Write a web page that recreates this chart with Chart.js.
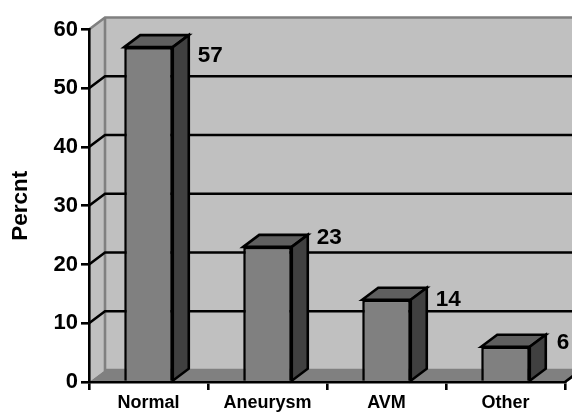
<!DOCTYPE html>
<html>
<head>
<meta charset="utf-8">
<title>Percnt</title>
<script src="https://cdn.jsdelivr.net/npm/chart.js@4/dist/chart.umd.js"></script>
<style>
  html, body { margin: 0; padding: 0; background: #fff; }
  canvas { display: block; }
</style>
</head>
<body>
<canvas id="chart" width="572" height="412"></canvas>
<script>
var categories = ['Normal', 'Aneurysm', 'AVM', 'Other'];
var percent = [57, 23, 14, 6];
// the value labels were placed by hand in the original
var labelNudgeX = [0, 0, 0, 2];
var labelNudgeY = [9, -9, 0, -4];

// depth of the fake 3d box
var dx = 16, dy = 12;
var lineW = 2.6;

var fake3d = {
    id: 'fake3d',
    beforeDraw: function (chart) {
        var c = chart.ctx, a = chart.chartArea, y = chart.scales.y;
        var base = y.getPixelForValue(0), top = y.getPixelForValue(60);
        c.save();
        // back wall
        c.fillStyle = '#c0c0c0';
        c.fillRect(a.left + dx, top - dy, a.right - a.left, base - top);
        // side wall
        c.beginPath();
        c.moveTo(a.left, base);
        c.lineTo(a.left + dx, base - dy);
        c.lineTo(a.left + dx, top - dy);
        c.lineTo(a.left, top);
        c.closePath();
        c.fill();
        // floor
        c.fillStyle = '#808080';
        c.beginPath();
        c.moveTo(a.left, base);
        c.lineTo(a.right, base);
        c.lineTo(a.right + dx, base - dy);
        c.lineTo(a.left + dx, base - dy);
        c.closePath();
        c.fill();
        // wall edges
        c.strokeStyle = '#808080';
        c.lineWidth = lineW;
        c.beginPath();
        c.moveTo(a.left, top);
        c.lineTo(a.left + dx, top - dy);
        c.lineTo(a.right + dx, top - dy);
        c.moveTo(a.left + dx, top - dy);
        c.lineTo(a.left + dx, base - dy);
        c.lineTo(a.right + dx, base - dy);
        c.stroke();
        // grid lines, round the corner and along the back
        c.strokeStyle = '#000';
        y.ticks.forEach(function (t) {
            if (t.value === 0 || t.value === 60) return;
            var py = y.getPixelForValue(t.value);
            c.beginPath();
            c.moveTo(a.left, py);
            c.lineTo(a.left + dx, py - dy);
            c.lineTo(a.right + dx, py - dy);
            c.stroke();
        });
        // floor edge on the right
        c.beginPath();
        c.moveTo(a.right, base);
        c.lineTo(a.right + dx, base - dy);
        c.stroke();
        c.restore();
    },
    beforeDatasetsDraw: function (chart) {
        var c = chart.ctx;
        var bars = chart.getDatasetMeta(0).data;
        c.save();
        c.strokeStyle = '#000';
        c.lineWidth = lineW;
        c.lineJoin = 'miter';
        bars.forEach(function (b) {
            var l = b.x - b.width / 2, r = b.x + b.width / 2;
            // top face
            c.fillStyle = '#5f5f5f';
            c.beginPath();
            c.moveTo(l, b.y);
            c.lineTo(l + dx, b.y - dy);
            c.lineTo(r + dx, b.y - dy);
            c.lineTo(r, b.y);
            c.closePath();
            c.fill();
            c.stroke();
            // side face
            c.fillStyle = '#404040';
            c.beginPath();
            c.moveTo(r, b.y);
            c.lineTo(r + dx, b.y - dy);
            c.lineTo(r + dx, b.base - dy);
            c.lineTo(r, b.base);
            c.closePath();
            c.fill();
            c.stroke();
        });
        c.restore();
    },
    afterDatasetsDraw: function (chart) {
        var c = chart.ctx;
        var bars = chart.getDatasetMeta(0).data;
        c.save();
        c.fillStyle = '#000';
        c.font = 'bold 22.5px "Liberation Sans"';
        c.textAlign = 'left';
        c.textBaseline = 'middle';
        bars.forEach(function (b, i) {
            c.fillText(String(percent[i]), b.x + b.width / 2 + 25 + labelNudgeX[i], b.y + labelNudgeY[i]);
        });
        c.restore();
    }
};

var chart = new Chart(document.getElementById('chart'), {
    type: 'bar',
    data: {
        labels: categories,
        datasets: [{
            data: percent,
            backgroundColor: '#808080',
            borderColor: '#000',
            borderWidth: lineW,
            categoryPercentage: 1,
            barPercentage: 0.408
        }]
    },
    options: {
        responsive: false,
        animation: false,
        layout: { padding: { top: 29.5, right: 7, left: 0, bottom: 0 } },
        plugins: { legend: { display: false }, tooltip: { enabled: false } },
        scales: {
            x: {
                afterFit: function (s) { s.height = 30; },
                grid: { offset: true, drawOnChartArea: false, color: '#000', lineWidth: lineW, tickLength: 8 },
                border: { color: '#000', width: lineW },
                ticks: { color: '#000', padding: 2, maxRotation: 0, font: { family: 'Liberation Sans', weight: 'bold', size: 18 } }
            },
            y: {
                min: 0,
                max: 60,
                afterFit: function (s) { s.width = 89; },
                title: { display: true, text: 'Percnt', color: '#000', padding: { top: 7, bottom: 0 }, font: { family: 'Liberation Sans', weight: 'bold', size: 22.5 } },
                grid: { drawOnChartArea: false, color: '#000', lineWidth: lineW, tickLength: 8 },
                border: { color: '#000', width: lineW },
                ticks: { stepSize: 10, color: '#000', padding: 3, font: { family: 'Liberation Sans', weight: 'bold', size: 22 } }
            }
        }
    },
    plugins: [fake3d]
});
</script>
</body>
</html>
